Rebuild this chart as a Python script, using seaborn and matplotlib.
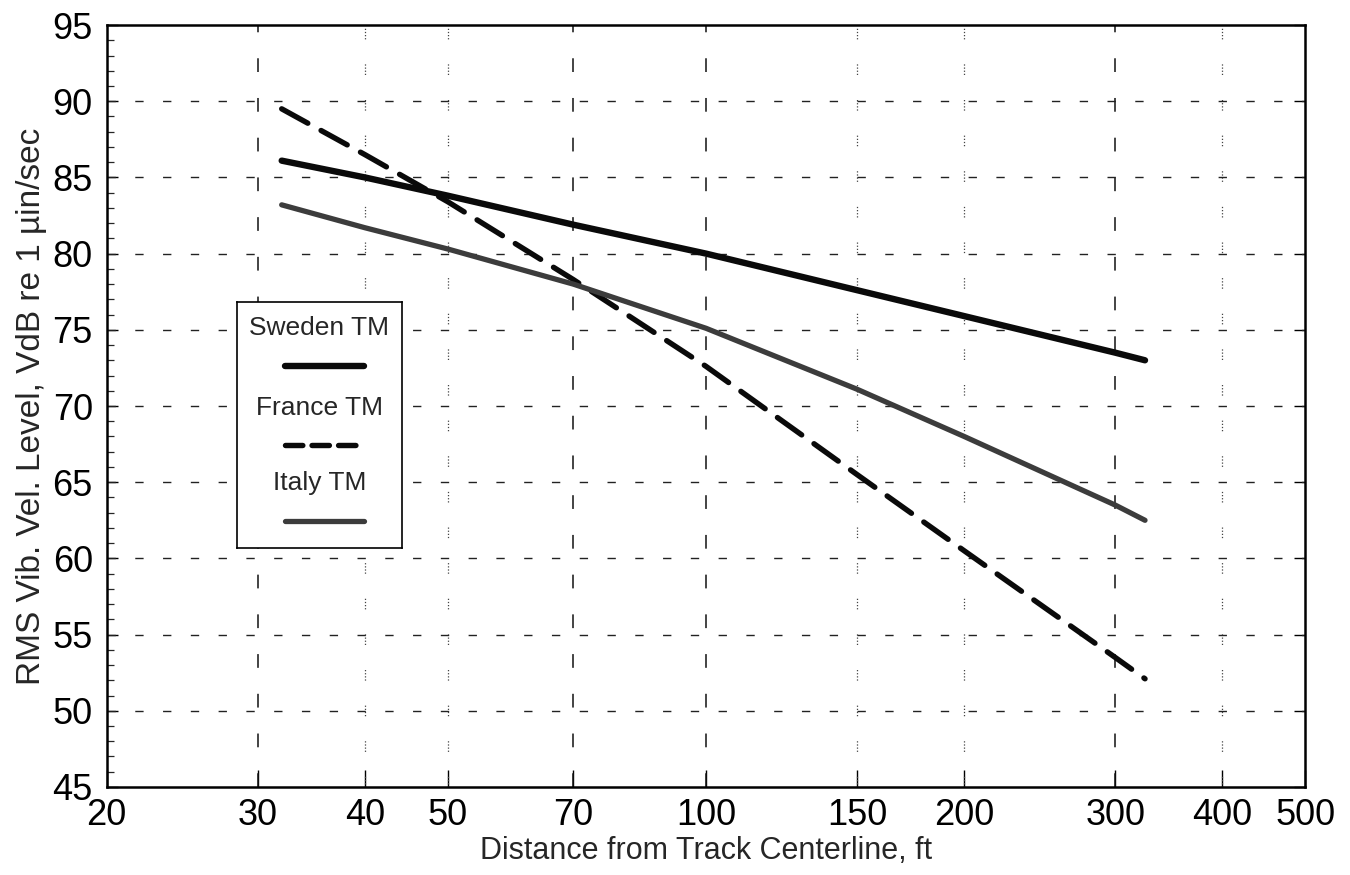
import matplotlib
matplotlib.use("Agg")
import matplotlib.pyplot as plt
from matplotlib.ticker import FixedLocator, NullLocator, MultipleLocator, FixedFormatter
import seaborn as sns
import pandas as pd

# ---------------- data ----------------
distance_ft = [32, 40, 50, 70, 100, 150, 200, 300, 325]
sweden_tm = [86.1, 85.0, 83.8, 81.9, 80.0, 77.6, 75.9, 73.5, 73.0]
france_tm = [89.5, 86.5, 83.4, 78.3, 72.6, 65.5, 60.5, 53.5, 52.1]
italy_tm = [83.2, 81.7, 80.3, 78.0, 75.1, 71.1, 68.0, 63.5, 62.5]

series_names = ["Sweden TM", "France TM", "Italy TM"]
x_ticks = [20, 30, 40, 50, 70, 100, 150, 200, 300, 400, 500]
x_tick_labels = ["20", "30", "40", "50", "70", "100", "150", "200", "300", "400", "500"]
y_ticks = [45, 50, 55, 60, 65, 70, 75, 80, 85, 90, 95]
x_grid_dashed = [30, 70, 100, 300]
x_grid_dotted = [40, 50, 150, 200, 400]
y_grid = [50, 55, 60, 65, 70, 75, 80, 85, 90]

x_label = "Distance from Track Centerline, ft"
y_label = "RMS Vib. Vel. Level, VdB re 1 \u00b5in/sec"

# ---------------- style ----------------
sns.set_style("ticks")
plt.rcParams["font.family"] = ["Liberation Sans", "DejaVu Sans"]

styles = {
    "Sweden TM": dict(color="#0a0a0a", lw=4.6, dashes=None),
    "France TM": dict(color="#0a0a0a", lw=3.9, dashes=(5.5, 2.8)),
    "Italy TM": dict(color="#3c3c3c", lw=3.8, dashes=None),
}
values = {"Sweden TM": sweden_tm, "France TM": france_tm, "Italy TM": italy_tm}

fig = plt.figure(figsize=(13.5, 8.75), dpi=100)
ax = fig.add_axes([0.079, 0.1006, 0.888, 0.8708])

# grid lines
for gx in x_grid_dashed:
    ax.axvline(gx, color="#111111", lw=1.1, linestyle=(0, (9, 17)), zorder=1)
for gx in x_grid_dotted:
    ax.axvline(gx, color="#444444", lw=0.9, linestyle=(0, (1, 1.5, 1, 1.5, 1, 1.5, 1, 20)), zorder=1)
for gy in y_grid:
    ax.axhline(gy, color="#222222", lw=1.0, linestyle=(0, (6, 14)), zorder=1)

# data lines
for name in series_names:
    df = pd.DataFrame({"distance": distance_ft, "level": values[name]})
    st = styles[name]
    sns.lineplot(data=df, x="distance", y="level", ax=ax, color=st["color"],
                 linewidth=st["lw"], legend=False, zorder=3)
    line = ax.lines[-1]
    line.set_solid_capstyle("round")
    line.set_solid_joinstyle("round")
    if st["dashes"] is not None:
        line.set_dashes(st["dashes"])
        line.set_dash_capstyle("round")

ax.set_xscale("log")
ax.set_xlim(20, 500)
ax.set_ylim(45, 95)

ax.xaxis.set_major_locator(FixedLocator(x_ticks))
ax.xaxis.set_major_formatter(FixedFormatter(x_tick_labels))
ax.xaxis.set_minor_locator(NullLocator())
ax.yaxis.set_major_locator(FixedLocator(y_ticks))
ax.yaxis.set_minor_locator(MultipleLocator(1))

ax.tick_params(axis="x", which="major", direction="in", length=12, width=1.0,
               labelsize=26, pad=8, top=False, bottom=True, colors="black")
ax.tick_params(axis="y", which="major", direction="in", length=8, width=1.0,
               labelsize=26, pad=10, left=True, right=True, colors="black")
ax.tick_params(axis="y", which="minor", direction="in", length=5, width=0.9,
               left=True, right=False)

for sp in ax.spines.values():
    sp.set_visible(True)
    sp.set_linewidth(1.8)
    sp.set_color("black")

ax.set_xlabel(x_label, fontsize=22, labelpad=2)
ax.set_ylabel(y_label, fontsize=24, labelpad=4)

# legend (text above each line sample)
leg = ax.inset_axes([0.1085, 0.3136, 0.1377, 0.323])
leg.set_xlim(0, 1)
leg.set_ylim(0, 1)
leg.set_xticks([])
leg.set_yticks([])
leg.set_facecolor("white")
leg.set_zorder(5)
for sp in leg.spines.values():
    sp.set_linewidth(1.2)
    sp.set_color("black")
text_y = [0.895, 0.57, 0.265]
line_y = [0.74, 0.418, 0.11]
for name, ty, ly in zip(series_names, text_y, line_y):
    st = styles[name]
    leg.text(0.5, ty, name, ha="center", va="center", fontsize=19)
    ln, = leg.plot([0.29, 0.77], [ly, ly], color=st["color"], lw=st["lw"],
                   solid_capstyle="round")
    if st["dashes"] is not None:
        ln.set_dashes((3.2, 1.7))
        ln.set_dash_capstyle("round")

fig.savefig("out.png", dpi=100)
